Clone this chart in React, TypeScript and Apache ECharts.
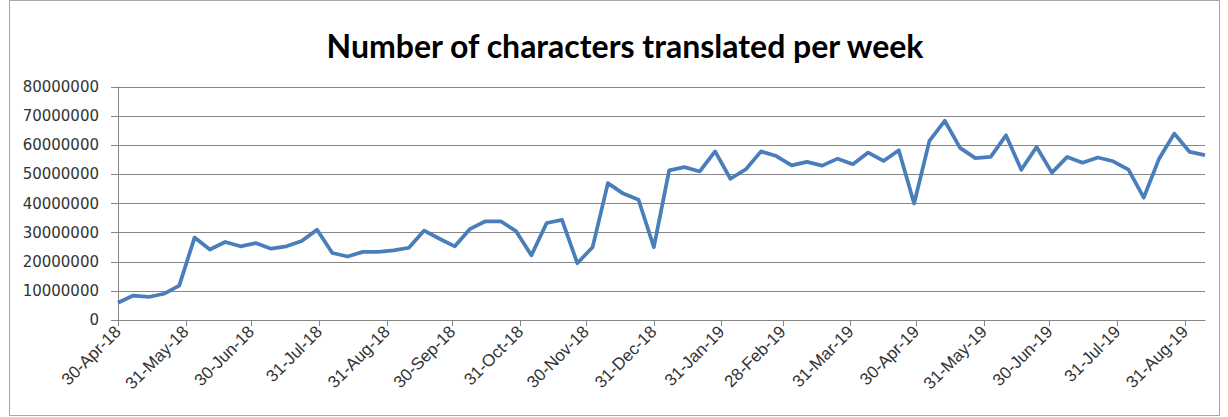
import React, { useEffect, useRef } from "react";
import * as echarts from "echarts";

const chartTitle = "Number of characters translated per week";
const firstWeek = [2018, 3, 30]; // 30-Apr-18 (UTC y, m, d)
const lastDay = [2019, 8, 9]; // 9-Sep-19
const weeklyCharacters = [
  5900000, 8400000, 7900000, 9000000, 11800000, 28300000, 24200000, 26800000,
  25300000, 26400000, 24500000, 25300000, 27100000, 31000000, 23000000, 21800000,
  23400000, 23400000, 23900000, 24800000, 30700000, 27900000, 25300000, 31300000,
  33900000, 33900000, 30500000, 22200000, 33300000, 34400000, 19500000, 25000000,
  47000000, 43400000, 41300000, 25000000, 51400000, 52500000, 51000000, 57900000,
  48500000, 51700000, 57900000, 56300000, 53100000, 54300000, 53000000, 55400000,
  53500000, 57500000, 54600000, 58300000, 40000000, 61500000, 68400000, 59100000,
  55600000, 56000000, 63400000, 51600000, 59400000, 50600000, 56000000, 54000000,
  55800000, 54500000, 51600000, 42000000, 55400000, 64000000, 57700000, 56600000,
];
const yMin = 0;
const yMax = 80000000;
const yInterval = 10000000;
const monthNames = ["Jan", "Feb", "Mar", "Apr", "May", "Jun", "Jul", "Aug", "Sep", "Oct", "Nov", "Dec"];

const DAY = 86400000;
const fmtDate = (t: number) => {
  const d = new Date(t);
  return `${d.getUTCDate()}-${monthNames[d.getUTCMonth()]}-${String(d.getUTCFullYear()).slice(2)}`;
};
const startT = Date.UTC(firstWeek[0], firstWeek[1], firstWeek[2]);
const endT = Date.UTC(lastDay[0], lastDay[1], lastDay[2]);
const dayTimes: number[] = [];
for (let t = startT; t <= endT; t += DAY) dayTimes.push(t);
const dayLabels = dayTimes.map(fmtDate);
const isMonthEnd = (i: number) => new Date(dayTimes[i] + DAY).getUTCDate() === 1;

export default function App() {
  const ref = useRef<HTMLDivElement>(null);
  useEffect(() => {
    if (!ref.current) return;
    const chart = echarts.init(ref.current, undefined, { renderer: "svg" });
    const gray = "#868686";
    chart.setOption({
      animation: false,
      backgroundColor: "#ffffff",
      graphic: [
        {
          type: "rect",
          shape: { x: 9.5, y: 0.5, width: 1210, height: 415 },
          style: { fill: "none", stroke: "#a6a6a6", lineWidth: 1 },
          silent: true,
        },
        {
          type: "text",
          x: 625,
          y: 45,
          style: {
            text: chartTitle,
            font: "bold 32px Lato, 'Liberation Sans', sans-serif",
            fill: "#000000",
            textAlign: "center",
            textVerticalAlign: "middle",
          },
        },
      ],
      grid: { left: 118, right: 23, top: 87, bottom: 97, containLabel: false },
      xAxis: {
        type: "category",
        data: dayLabels,
        boundaryGap: false,
        axisLine: { show: true, lineStyle: { color: gray, width: 1 } },
        axisTick: { show: true, interval: (i: number) => isMonthEnd(i), length: 6, lineStyle: { color: gray } },
        axisLabel: {
          interval: (i: number) => isMonthEnd(i),
          rotate: 45,
          margin: 9,
          color: "#333333",
          fontFamily: "'Liberation Sans', Arial, sans-serif",
          fontSize: 17,
        },
        splitLine: { show: false },
      },
      yAxis: {
        type: "value",
        min: yMin,
        max: yMax,
        interval: yInterval,
        axisLine: { show: true, lineStyle: { color: gray, width: 1 } },
        axisTick: { show: true, length: 7, lineStyle: { color: gray } },
        axisLabel: {
          formatter: (v: number) => String(v),
          margin: 19,
          color: "#333333",
          fontFamily: "'DejaVu Sans', Verdana, sans-serif",
          fontSize: 15,
        },
        splitLine: { show: true, lineStyle: { color: gray, width: 1 } },
      },
      series: [
        {
          type: "line",
          data: weeklyCharacters.map((v, i) => [dayLabels[i * 7], v]),
          showSymbol: false,
          symbol: "none",
          lineStyle: { color: "#4a7ebb", width: 3.75, join: "round" },
          itemStyle: { color: "#4a7ebb" },
        },
      ],
    });
    return () => chart.dispose();
  }, []);
  return <div ref={ref} style={{ position: "fixed", left: 0, top: 0, width: 1228, height: 417 }} />;
}
